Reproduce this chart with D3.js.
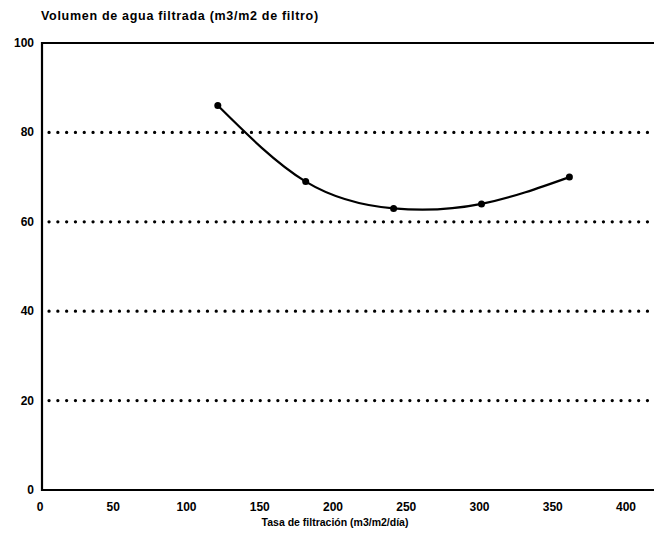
<!DOCTYPE html>
<html><head><meta charset="utf-8">
<script src="https://cdn.jsdelivr.net/npm/d3@7"></script>
<style>body{margin:0;background:#fff}svg{display:block}text{font-family:"Liberation Sans",Arial,sans-serif;font-weight:bold;fill:#000}</style>
</head><body><svg id="c" width="654" height="543"></svg>
<script>
const xValues=[120,180,240,300,360];
const yValues=[86,69,63,64,70];
const xTicks=[0,50,100,150,200,250,300,350,400];
const yTicks=[0,20,40,60,80,100];
const gridValues=[20,40,60,80];
const title="Volumen de agua filtrada (m3/m2 de filtro)";
const xTitle="Tasa de filtración (m3/m2/día)";

const svg=d3.select("#c");
const x=d3.scaleLinear().domain([0,400]).range([42,628]);
const y=d3.scaleLinear().domain([0,100]).range([490,43]);

svg.selectAll(".grid").data(gridValues).enter().append("line")
 .attr("x1",49).attr("x2",654).attr("y1",d=>y(d)).attr("y2",d=>y(d))
 .attr("stroke","#000").attr("stroke-width",3.2).attr("stroke-linecap","round")
 .attr("stroke-dasharray","0.1,8.7");

svg.append("path").attr("d",`M654,${y(100)}H${x(0)}V${y(0)}H654`)
 .attr("fill","none").attr("stroke","#000").attr("stroke-width",2.2);

svg.selectAll(".xt").data(xTicks).enter().append("text")
 .attr("x",d=>x(d)-2).attr("y",511).attr("text-anchor","middle").attr("font-size",12).text(d=>d);
svg.selectAll(".yt").data(yTicks).enter().append("text")
 .attr("x",34).attr("y",d=>y(d)+4).attr("text-anchor","end").attr("font-size",12).text(d=>d);

svg.append("text").attr("x",41).attr("y",20).attr("font-size",12.5).attr("letter-spacing",0.7).text(title);
svg.append("text").attr("x",335).attr("y",526).attr("text-anchor","middle").attr("font-size",10.5).text(xTitle);

const pts=xValues.map((v,i)=>[x(v),y(yValues[i])]);
svg.append("path").attr("d",d3.line().curve(d3.curveNatural)(pts))
 .attr("fill","none").attr("stroke","#000").attr("stroke-width",2.2);
svg.selectAll(".pt").data(pts).enter().append("circle")
 .attr("cx",d=>d[0]).attr("cy",d=>d[1]).attr("r",3.5).attr("fill","#000");
</script></body></html>
